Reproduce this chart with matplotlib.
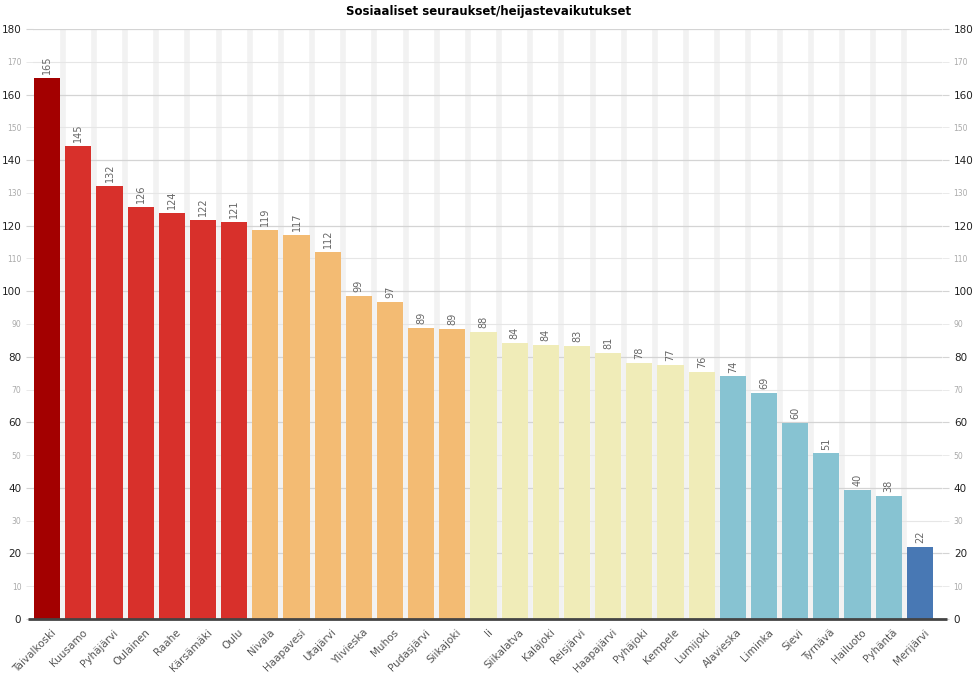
import numpy as np
import matplotlib.pyplot as plt
from matplotlib.ticker import MultipleLocator

# Data
kunnat = ['Taivalkoski', 'Kuusamo', 'Pyhäjärvi', 'Oulainen', 'Raahe', 'Kärsämäki', 'Oulu',
          'Nivala', 'Haapavesi', 'Utajärvi', 'Ylivieska', 'Muhos', 'Pudasjärvi', 'Siikajoki',
          'Ii', 'Siikalatva', 'Kalajoki', 'Reisjärvi', 'Haapajärvi', 'Pyhäjoki', 'Kempele',
          'Lumijoki', 'Alavieska', 'Liminka', 'Sievi', 'Tyrnävä', 'Hailuoto', 'Pyhäntä', 'Merijärvi']
arvot = [165.0, 144.4, 132.0, 125.8, 124.0, 121.8, 121.2, 118.7, 117.2, 111.9, 98.6, 96.6,
         88.7, 88.5, 87.6, 84.1, 83.6, 83.3, 81.1, 78.0, 77.4, 75.5, 74.0, 69.1, 59.9,
         50.5, 39.5, 37.6, 22.0]
nimiot = [165, 145, 132, 126, 124, 122, 121, 119, 117, 112, 99, 97, 89, 89, 88, 84, 84, 83,
          81, 78, 77, 76, 74, 69, 60, 51, 40, 38, 22]
ryhmat = [0, 1, 1, 1, 1, 1, 1, 2, 2, 2, 2, 2, 2, 2, 3, 3, 3, 3, 3, 3, 3, 3, 4, 4, 4, 4, 4, 4, 5]
ryhma_varit = ['#a30000', '#d8302b', '#f3bb73', '#f0ecb8', '#87c3d2', '#4878b4']

fig = plt.figure(figsize=(9.78, 6.8), dpi=100)
ax = fig.add_axes([33 / 978, 1 - 619 / 680, 909 / 978, 590 / 680])

x = np.arange(len(kunnat))

# light stripes between categories
for i in range(len(kunnat) - 1):
    ax.axvline(i + 0.5, color='#f2f2f2', lw=4, zorder=0)

ax.set_ylim(0, 180)
ax.yaxis.set_major_locator(MultipleLocator(20))
ax.yaxis.set_minor_locator(MultipleLocator(10))
ax.grid(axis='y', which='major', color='#d4d4d4', lw=0.9, zorder=1)
ax.grid(axis='y', which='minor', color='#e6e6e6', lw=0.8, zorder=1)

ax.bar(x, arvot, width=0.84, color=[ryhma_varit[g] for g in ryhmat], zorder=2)
for xi, v, n in zip(x, arvot, nimiot):
    ax.text(xi, v + 1.2, str(n), rotation=90, ha='center', va='bottom',
            fontsize=7, color='#666666', zorder=3)

ax.set_xlim(-0.455, 28.71)
ax.set_xticks(x + 0.12)
ax.set_xticklabels(kunnat, rotation=45, ha='right', rotation_mode='anchor',
                   fontsize=7.5, color='#555555')
ax.tick_params(axis='x', length=0, pad=6)

ax.tick_params(axis='y', which='major', labelsize=7.5, labelcolor='#222222',
               color='#d4d4d4', length=5, left=True, right=True,
               labelleft=True, labelright=True)
ax.tick_params(axis='y', which='minor', labelsize=5.5, labelcolor='#aaaaaa',
               color='#e6e6e6', length=5, left=True, right=True,
               labelleft=True, labelright=True)
ax.yaxis.set_minor_formatter(lambda v, p: '' if v % 20 == 0 else f'{int(v)}')

for s in ['top', 'left', 'right', 'bottom']:
    ax.spines[s].set_visible(False)
# dark baseline reaching into the tick marks on both sides
ax.plot([-0.006, 1.006], [0, 0], transform=ax.transAxes, color='#444444', lw=2,
        clip_on=False, zorder=4, solid_capstyle='butt')

fig.text(0.5, 1 - 11 / 680, 'Sosiaaliset seuraukset/heijastevaikutukset', ha='center',
         va='center', fontsize=8.5, fontweight='bold')

fig.savefig('out.png', dpi=100)
